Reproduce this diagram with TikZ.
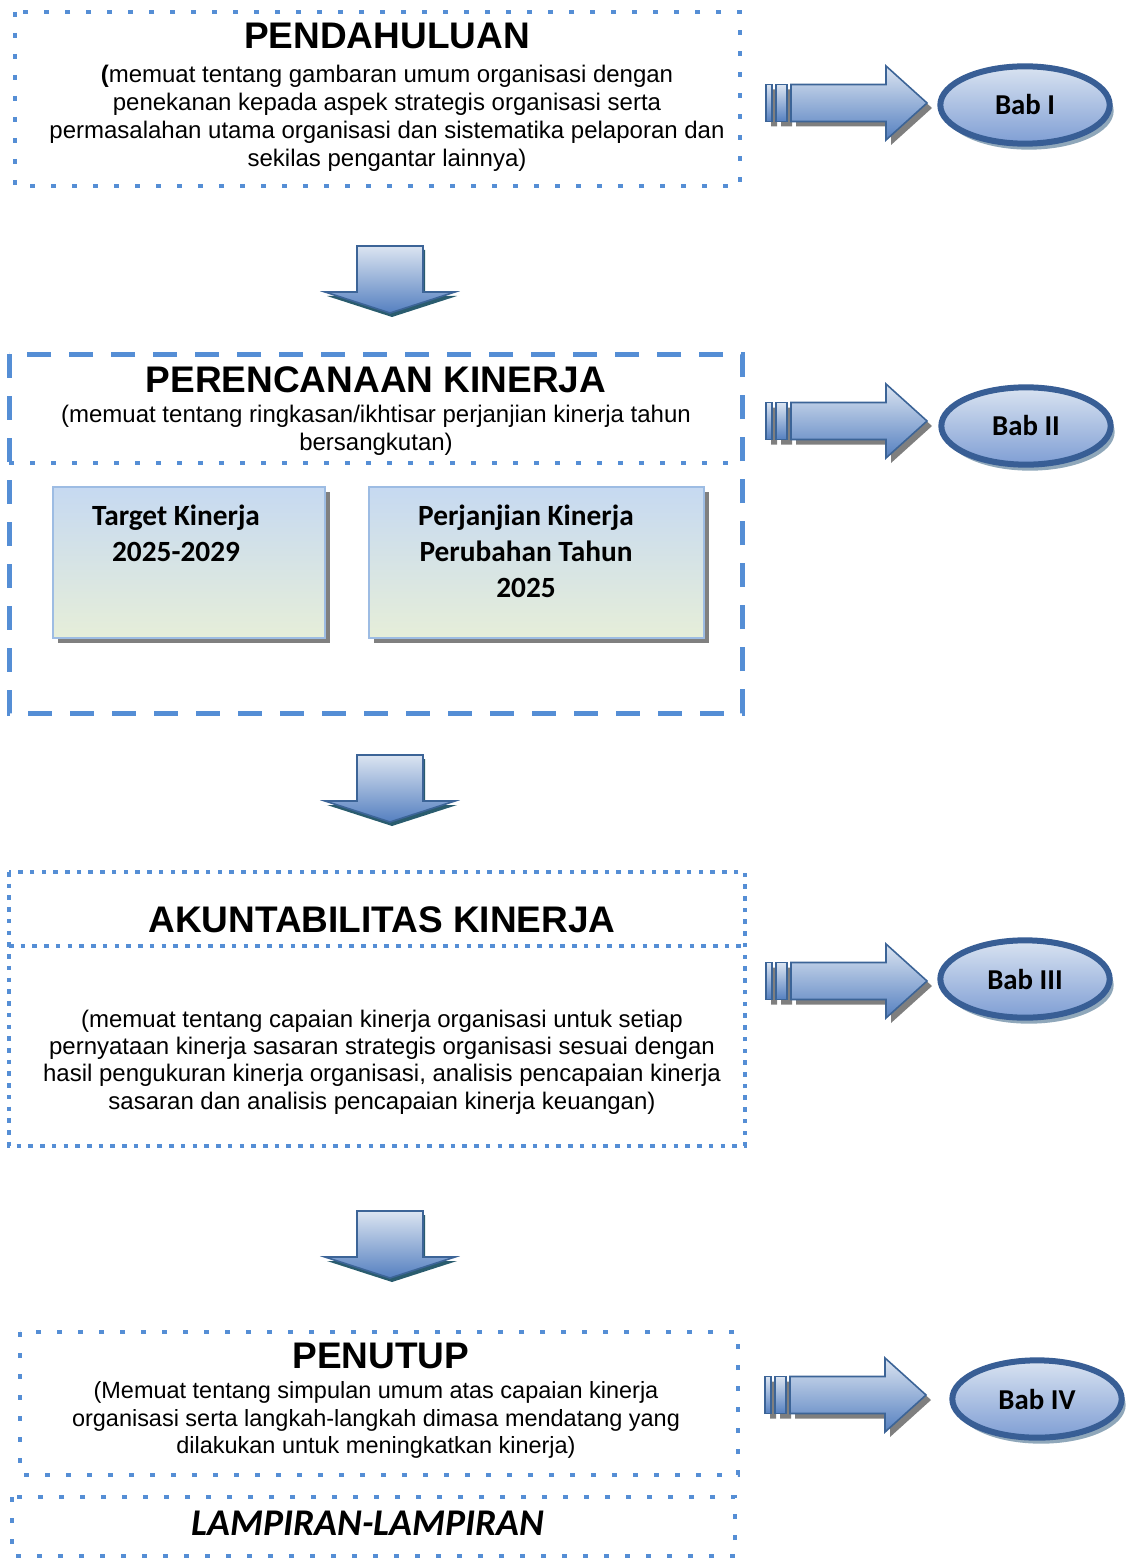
\documentclass[tikz,border=0pt]{standalone}
\usepackage{fontspec}
\setmainfont{Liberation Sans}
\newfontfamily\calibri{Carlito}
\usepackage{tikz}
\usetikzlibrary{shapes.geometric}
\usetikzlibrary{shadows}

\definecolor{dotblue}{HTML}{558ED5}
\definecolor{arrowline}{HTML}{3C6497}
\definecolor{arrowtop}{HTML}{DBE4F1}
\definecolor{arrowbottom}{HTML}{5580C0}
\definecolor{arrowshadow}{HTML}{7F7F7F}
\definecolor{downshadow}{HTML}{2A5C6E}
\definecolor{babline}{HTML}{385E95}
\definecolor{babtop}{HTML}{D9E3F1}
\definecolor{babbottom}{HTML}{7F9ED4}
\definecolor{babshadow}{HTML}{8FA7BA}
\definecolor{boxline}{HTML}{9DBCE3}
\definecolor{boxtop}{HTML}{C6D9F1}
\definecolor{boxbottom}{HTML}{E6EED9}
\definecolor{boxshadow}{HTML}{808080}

\begin{document}
\begin{tikzpicture}[
		x=0.75pt, y=-0.75pt,
		dotline/.style={draw=dotblue, line width=3.4pt, dash pattern=on 3.4pt off 12.35pt},
		densedot/.style={draw=dotblue, line width=3.4pt, dash pattern=on 3.4pt off 5.4pt},
		longdash/.style={draw=dotblue, line width=3.75pt, dash pattern=on 18pt off 13.5pt},
		title/.style={font=\fontsize{27.75}{32}\selectfont\bfseries, inner sep=0pt},
		body/.style={font=\fontsize{18}{21}\selectfont, align=center, inner sep=0pt},
		subbox/.style={draw=boxline, line width=1.5pt, top color=boxtop, bottom color=boxbottom,
			general shadow={fill=boxshadow, shadow xshift=3.75pt, shadow yshift=-3.75pt}},
		subtext/.style={font=\calibri\bfseries\fontsize{22}{27}\selectfont, align=center, inner sep=0pt},
		bab/.style={ellipse, draw=babline, line width=4.5pt, top color=babtop, bottom color=babbottom,
			minimum width=127pt, minimum height=58pt, inner sep=0pt,
			font=\calibri\bfseries\fontsize{21.6}{26}\selectfont,
			general shadow={fill=babshadow, shadow xshift=3pt, shadow yshift=-4.5pt}},
		arrowfill/.style={draw=arrowline, line width=1.2pt, top color=arrowtop, bottom color=arrowbottom},
		pics/babarrow/.style={code={
			\fill[arrowshadow, shift={(5,5)}] (-161,-18.5) rectangle (-155,18.5) (-151,-18.5) rectangle (-140,18.5)
				(-136,-18.5) -- (-41,-18.5) -- (-41,-37) -- (0,0) -- (-41,37) -- (-41,18.5) -- (-136,18.5) -- cycle;
			\path[arrowfill] (-161,-18.5) rectangle (-155,18.5);
			\path[arrowfill] (-151,-18.5) rectangle (-140,18.5);
			\path[arrowfill] (-136,-18.5) -- (-41,-18.5) -- (-41,-37) -- (0,0) -- (-41,37) -- (-41,18.5) -- (-136,18.5) -- cycle;
		}},
		pics/downarrow/.style={code={
			\fill[downshadow, shift={(2,4)}] (-33,-67) -- (33,-67) -- (33,-21) -- (65,-21) -- (0,0) -- (-65,-21) -- (-33,-21) -- cycle;
			\path[arrowfill] (-33,-67) -- (33,-67) -- (33,-21) -- (65,-21) -- (0,0) -- (-65,-21) -- (-33,-21) -- cycle;
		}}
		]
		\useasboundingbox (0,0) rectangle (1126,1558);

		% pendahuluan
		\draw[dotline] (15,12) rectangle (740,186);
		\node[title] (pendTitle) at (387,36) {PENDAHULUAN};
		\node[body] (pendText) at (387,118) {\textbf{(}memuat tentang gambaran umum organisasi dengan \\ penekanan kepada aspek strategis organisasi serta \\ permasalahan utama organisasi dan sistematika pelaporan dan \\ sekilas pengantar lainnya)};
		\pic at (927,103) {babarrow};
		\node[bab] (babI) at (1025,105) {Bab I};

		\pic at (390,313) {downarrow};

		% perencanaan kinerja
		\draw[longdash] (9,354) rectangle (742,713);
		\draw[dotline] (9,463) -- (742,463);
		\node[title] (renTitle) at (376,380) {PERENCANAAN KINERJA};
		\node[body] (renText) at (376,430) {(memuat tentang ringkasan/ikhtisar perjanjian kinerja tahun \\ bersangkutan)};
		\path[subbox] (53,487) rectangle (325,638);
		\path[subbox] (369,487) rectangle (704,638);
		\node[subtext] (target) at (176,533) {Target Kinerja \\ 2025-2029};
		\node[subtext] (perjanjian) at (526,551) {Perjanjian Kinerja \\ Perubahan Tahun \\ 2025};
		\pic at (927,421) {babarrow};
		\node[bab] (babII) at (1026,426) {Bab II};

		\pic at (390,822) {downarrow};

		% akuntabilitas kinerja
		\draw[densedot] (9,872) rectangle (745,1146);
		\draw[densedot] (9,946) -- (745,946);
		\node[title] (akuTitle) at (382,920) {AKUNTABILITAS KINERJA};
		\node[body, font=\fontsize{18}{20.6}\selectfont] (akuText) at (382,1062) {(memuat tentang capaian kinerja organisasi untuk setiap \\ pernyataan kinerja sasaran strategis organisasi sesuai dengan \\ hasil pengukuran kinerja organisasi, analisis pencapaian kinerja \\ sasaran dan analisis pencapaian kinerja keuangan)};
		\pic at (927,981) {babarrow};
		\node[bab] (babIII) at (1025,979) {Bab III};

		\pic at (390,1278) {downarrow};

		% penutup dan lampiran
		\draw[dotline] (20,1332) rectangle (738,1475);
		\node[title] (tupTitle) at (381,1356) {PENUTUP};
		\node[body, font=\fontsize{17.6}{20.6}\selectfont] (tupText) at (376,1420) {(Memuat tentang simpulan umum atas capaian kinerja \\ organisasi serta langkah-langkah dimasa mendatang yang \\ dilakukan untuk meningkatkan kinerja)};
		\pic at (926,1395) {babarrow};
		\node[bab] (babIV) at (1037,1399) {Bab IV};
		\draw[dotline] (12,1497) rectangle (735,1556);
		\node[title, font=\calibri\bfseries\itshape\fontsize{28.3}{32}\selectfont] (lampiran) at (368,1523) {LAMPIRAN-LAMPIRAN};
	\end{tikzpicture}
\end{document}
